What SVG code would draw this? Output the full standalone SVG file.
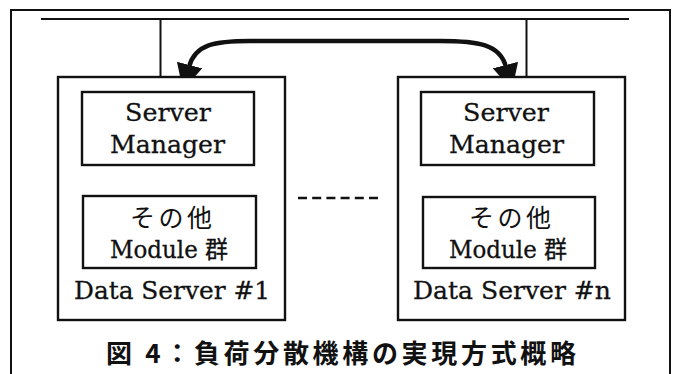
<svg xmlns="http://www.w3.org/2000/svg" width="674" height="374" viewBox="0 0 674 374">
<style>
.ln{fill:none;stroke:#111;stroke-width:2}
.box{fill:#fff;stroke:#111;stroke-width:2.4}
.t{font-family:"DejaVu Serif","Liberation Serif","Noto Sans CJK JP",serif;font-size:25px;fill:#111;stroke:#111;stroke-width:0.3}
.m{font-family:"DejaVu Serif","Noto Sans CJK JP",serif;font-size:24px;fill:#111;stroke:#111;stroke-width:0.3}
.j{font-family:"Noto Sans CJK JP",serif;font-size:25px;fill:#111}
.title{font-family:"Noto Sans CJK JP",sans-serif;font-size:26px;font-weight:bold;fill:#111}
</style>
<defs>
<marker id="ah" viewBox="0 0 26 26" refX="2" refY="13" markerWidth="26" markerHeight="26" markerUnits="userSpaceOnUse" orient="auto-start-reverse">
<path d="M0,0 L26,13 L0,26 z" fill="#111"/>
</marker>
</defs>
<rect width="674" height="374" fill="#fff"/>
<g id="frame"><path class="ln" d="M11,374 V10 H670 V374" stroke-width="1.8"/></g>
<g id="connectors">
<path class="ln" d="M41,19 H629"/>
<path class="ln" d="M160.5,19 V77"/>
<path class="ln" d="M526.5,19 V77"/>
<path d="M189,67 C195,44 215,41 250,41 L440,41 C478,41 500,44 506,67" fill="none" stroke="#111" stroke-width="4.5" marker-start="url(#ah)" marker-end="url(#ah)"/>
<path d="M298,198 H378" fill="none" stroke="#111" stroke-width="2.5" stroke-dasharray="9 5.2"/>
</g>
<g id="ds1">
<rect class="box" x="58" y="77" width="227" height="243"/>
<text class="t" x="74" y="299" textLength="196" lengthAdjust="spacingAndGlyphs">Data Server #1</text>
</g>
<g id="sm1">
<rect class="box" x="82" y="92" width="172" height="73"/>
<text class="t" x="125" y="121" textLength="86" lengthAdjust="spacingAndGlyphs">Server</text>
<text class="t" x="110" y="153" textLength="115" lengthAdjust="spacingAndGlyphs">Manager</text>
</g>
<g id="mod1">
<rect class="box" x="83" y="196" width="173" height="72"/>
<text class="j" x="130" y="227" textLength="82" lengthAdjust="spacing">その他</text>
<text class="m" x="110" y="258" textLength="118" lengthAdjust="spacingAndGlyphs">Module 群</text>
</g>
<g id="dsn">
<rect class="box" x="398" y="77" width="227" height="243"/>
<text class="t" x="413" y="299" textLength="198" lengthAdjust="spacingAndGlyphs">Data Server #n</text>
</g>
<g id="smn">
<rect class="box" x="421" y="92" width="173" height="73"/>
<text class="t" x="463" y="121" textLength="86" lengthAdjust="spacingAndGlyphs">Server</text>
<text class="t" x="449" y="153" textLength="115" lengthAdjust="spacingAndGlyphs">Manager</text>
</g>
<g id="modn">
<rect class="box" x="423" y="197" width="172" height="71"/>
<text class="j" x="469" y="227" textLength="82" lengthAdjust="spacing">その他</text>
<text class="m" x="449" y="258" textLength="118" lengthAdjust="spacingAndGlyphs">Module 群</text>
</g>
<g id="caption">
<text class="title" x="106" y="363" textLength="470" lengthAdjust="spacing">図 4：負荷分散機構の実現方式概略</text>
</g>
</svg>
